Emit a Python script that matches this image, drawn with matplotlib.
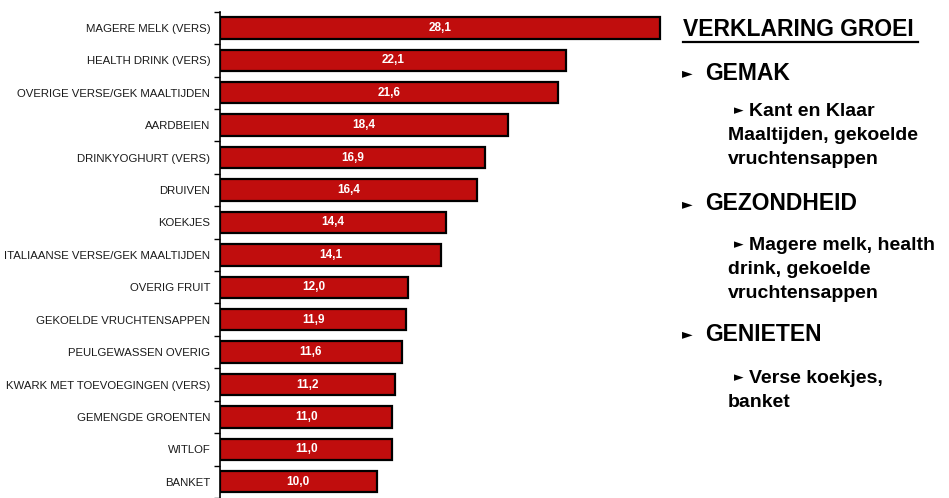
import matplotlib
matplotlib.use('Agg')
import matplotlib.pyplot as plt
from matplotlib.lines import Line2D
import numpy as np

plt.rcParams['font.family'] = ['Liberation Sans', 'DejaVu Sans']

# ── Data ──────────────────────────────────────────────────────────────────────
categories = [
    'MAGERE MELK (VERS)',
    'HEALTH DRINK (VERS)',
    'OVERIGE VERSE/GEK MAALTIJDEN',
    'AARDBEIEN',
    'DRINKYOGHURT (VERS)',
    'DRUIVEN',
    'KOEKJES',
    'ITALIAANSE VERSE/GEK MAALTIJDEN',
    'OVERIG FRUIT',
    'GEKOELDE VRUCHTENSAPPEN',
    'PEULGEWASSEN OVERIG',
    'KWARK MET TOEVOEGINGEN (VERS)',
    'GEMENGDE GROENTEN',
    'WITLOF',
    'BANKET',
]
values = [28.1, 22.1, 21.6, 18.4, 16.9, 16.4, 14.4, 14.1,
          12.0, 11.9, 11.6, 11.2, 11.0, 11.0, 10.0]

C_BAR = '#C00D0D'
W, H = 949, 498

fig = plt.figure(figsize=(W / 100, H / 100), dpi=100)
fig.patch.set_facecolor('white')

# ── Bar chart ────────────────────────────────────────────────────────────────
ax = fig.add_axes([220 / W, 0.0, 470 / W, (H - 11.7) / H])
y = np.arange(len(categories))
bars = ax.barh(y, values, height=0.66, color=C_BAR,
               edgecolor='black', linewidth=1.6)
ax.bar_label(bars, labels=[f'{v:.1f}'.replace('.', ',') for v in values],
             label_type='center', color='white', fontsize=8.5,
             fontweight='bold')

ax.set_xlim(0, 30)
ax.set_ylim(len(categories) - 0.5, -0.5)
ax.set_yticks(y)
ax.set_yticklabels(categories, fontsize=8.2, color='#1a1a1a')
ax.set_yticks(np.arange(len(categories) + 1) - 0.5, minor=True)
ax.tick_params(axis='y', which='major', length=0, pad=7)
ax.tick_params(axis='y', which='minor', length=4, width=1, color='black')
ax.set_xticks([])
for side in ['top', 'right', 'bottom']:
    ax.spines[side].set_visible(False)
ax.spines['left'].set_linewidth(1.2)
ax.spines['left'].set_color('black')
ax.set_facecolor('none')

# ── Explanation text on the right ────────────────────────────────────────────
def px(x, y):
    return x / W, 1 - y / H

tri = '\u25BA'
fig.text(*px(683, 30), 'VERKLARING GROEI', fontsize=16.5, fontweight='bold',
         va='center', ha='left')
fig.add_artist(Line2D([683 / W, 918 / W], [1 - 42 / H, 1 - 42 / H],
                      color='black', linewidth=1.6,
                      transform=fig.transFigure))

heads = [('GEMAK', 73), ('GEZONDHEID', 204), ('GENIETEN', 334)]
for txt, yy in heads:
    fig.text(*px(682, yy), tri, fontsize=10, va='center', ha='left',
             family=['DejaVu Sans'])
    fig.text(*px(705, yy), txt, fontsize=16.5, fontweight='bold',
             va='center', ha='left')

subs = [
    (111, ['Kant en Klaar', 'Maaltijden, gekoelde', 'vruchtensappen']),
    (245, ['Magere melk, health', 'drink, gekoelde', 'vruchtensappen']),
    (378, ['Verse koekjes,', 'banket']),
]
for y0, lines in subs:
    fig.text(*px(734, y0), tri, fontsize=9, va='center', ha='left',
             family=['DejaVu Sans'])
    fig.text(*px(749, y0), lines[0], fontsize=14, fontweight='bold',
             va='center', ha='left')
    for i, ln in enumerate(lines[1:], start=1):
        fig.text(*px(728, y0 + 24.5 * i), ln, fontsize=14,
                 fontweight='bold', va='center', ha='left')

fig.savefig('out.png', dpi=100, facecolor='white')
